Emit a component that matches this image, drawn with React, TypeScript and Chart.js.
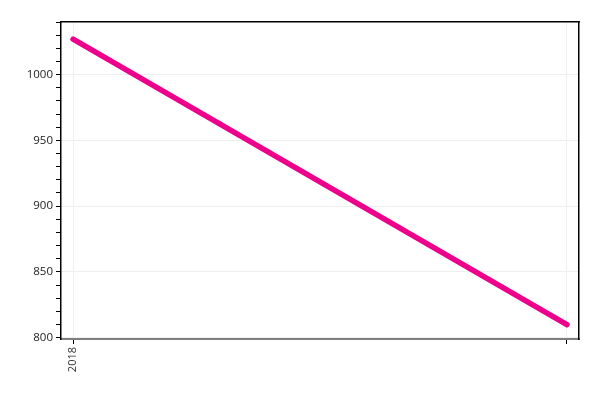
import { useEffect, useRef } from "react";
import { Chart, registerables } from "chart.js";

Chart.register(...registerables);

const years = ["2018", ""];
const values = [1027, 810];
const yMin = 799;
const yMax = 1040;

export default function App() {
	const canvasRef = useRef<HTMLCanvasElement | null>(null);

	useEffect(() => {
		if (!canvasRef.current) {
			return;
		}

		const chart = new Chart(canvasRef.current, {
			type: "line",
			data: {
				datasets: [
					{
						data: values.map((v, i) => ({ x: i, y: v })),
						borderColor: "#EC008C",
						borderWidth: 5.5,
						borderCapStyle: "round",
						pointRadius: 0,
						tension: 0,
					},
				],
			},
			options: {
				animation: false,
				responsive: false,
				layout: { padding: 0 },
				plugins: {
					legend: { display: false },
					tooltip: { enabled: false },
				},
				scales: {
					x: {
						type: "linear",
						position: "bottom",
						min: -0.0245,
						max: 1.0245,
						afterBuildTicks: (scale) => {
							scale.ticks = years.map((_, i) => ({ value: i }));
						},
						afterFit: (scale) => {
							scale.height = 61;
						},
						ticks: {
							autoSkip: false,
							minRotation: 90,
							maxRotation: 90,
							color: "#333",
							padding: 3,
							font: { family: "Open Sans", size: 11 },
							callback: (value) => years[Number(value)] ?? "",
						},
						grid: {
							color: "#eeeeee",
							tickColor: "#000",
							tickLength: 5,
						},
						border: { color: "#808080", width: 2 },
					},
					xTop: {
						type: "linear",
						position: "top",
						min: 0,
						max: 1,
						afterFit: (scale) => {
							scale.height = 22;
						},
						ticks: { display: false },
						grid: { drawOnChartArea: false, drawTicks: false },
						border: { color: "#000", width: 1.5 },
					},
					y: {
						type: "linear",
						position: "left",
						min: yMin,
						max: yMax,
						afterBuildTicks: (scale) => {
							const ticks = [];
							for (let v = 800; v <= 1040; v += 10) {
								ticks.push({ value: v });
							}
							scale.ticks = ticks;
						},
						afterFit: (scale) => {
							scale.width = 61;
						},
						ticks: {
							autoSkip: false,
							color: "#222",
							padding: 3,
							font: { family: "Open Sans", size: 11.5 },
							callback: (value) => (Number(value) % 50 === 0 ? String(value) : ""),
						},
						grid: {
							color: (ctx) => (ctx.tick && ctx.tick.value % 50 === 0 ? "#eeeeee" : "rgba(0,0,0,0)"),
							tickColor: "#000",
							tickLength: 5,
						},
						border: { color: "#000", width: 1.5 },
					},
					yRight: {
						type: "linear",
						position: "right",
						min: 0,
						max: 1,
						afterFit: (scale) => {
							scale.width = 21;
						},
						ticks: { display: false },
						grid: { drawOnChartArea: false, drawTicks: false },
						border: { color: "#000", width: 1.5 },
					},
				},
			},
		});

		return () => {
			chart.destroy();
		};
	}, []);

	return (
		<div style={{ position: "fixed", left: 0, top: 0, width: 600, height: 400, background: "#fff" }}>
			<canvas ref={canvasRef} width={600} height={400} />
		</div>
	);
}
